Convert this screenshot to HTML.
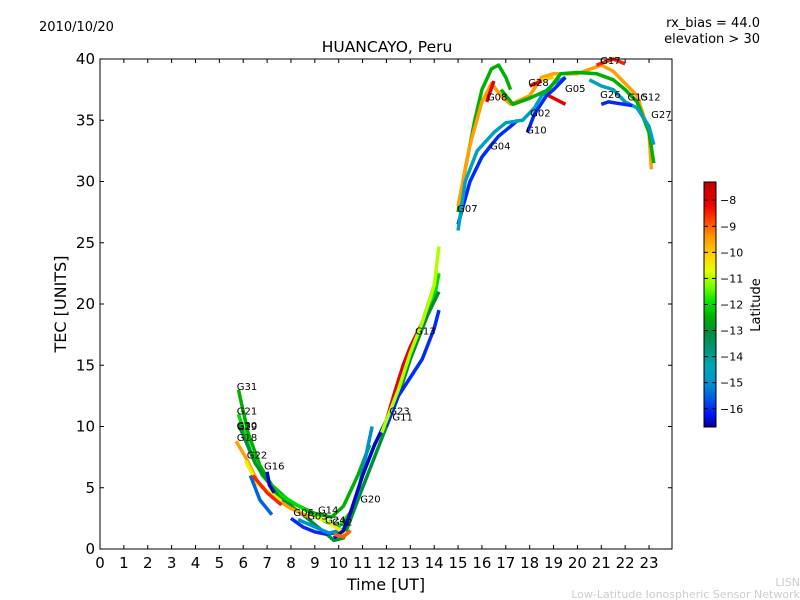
<!DOCTYPE html>
<html><head><meta charset="utf-8"><style>
body{margin:0;background:#fff;}
svg{display:block;font-family:"DejaVu Sans","Liberation Sans",sans-serif;}
</style></head><body>
<svg id="chart" width="800" height="600">
<text x="39" y="31" font-size="13">2010/10/20</text>
<text x="760" y="27" font-size="13" text-anchor="end">rx_bias = 44.0</text>
<text x="760" y="43" font-size="13" text-anchor="end">elevation &gt; 30</text>
<text x="387" y="52" font-size="15.5" text-anchor="middle">HUANCAYO, Peru</text>
<g id="tracks"></g>
<g id="labels"></g>
<rect x="100" y="59" width="572" height="490" fill="none" stroke="#000" stroke-width="1"/>
<g id="xaxis"></g>
<g id="yaxis"></g>
<text x="386" y="590" font-size="16" text-anchor="middle">Time [UT]</text>
<text x="66" y="304" font-size="16" text-anchor="middle" transform="rotate(-90 66 304)">TEC [UNITS]</text>
<defs><linearGradient id="cmap" x1="0" y1="1" x2="0" y2="0"></linearGradient></defs>
<rect x="704" y="182" width="12" height="245" fill="url(#cmap)" stroke="#000" stroke-width="1"/>
<g id="cbar"></g>
<text x="760" y="305" font-size="13" text-anchor="middle" transform="rotate(-90 760 305)">Latitude</text>
<text x="800" y="586" font-size="11" fill="#ccc" text-anchor="end">LISN</text>
<text x="800" y="598" font-size="11" fill="#ccc" text-anchor="end">Low-Latitude Ionospheric Sensor Network</text>
</svg>
<script>
const xTicks=[0,1,2,3,4,5,6,7,8,9,10,11,12,13,14,15,16,17,18,19,20,21,22,23];
const yTicks=[0,5,10,15,20,25,30,35,40];
const cTicks=[-8,-9,-10,-11,-12,-13,-14,-15,-16];
const trackLat=[-12.5,-12,-13,-9.5,-10.5,-16.5,-15.5,-8.5,-16,-15,-10.5,-16.5,-9,-8,-16,-11,-12.5,-9.5,-8,-16,-14.5,-16,-8,-8,-12.5,-14.5,-16,-8.5,-10];
const trackHours=[
[5.8,6.2,6.7,7.2,8,9,9.7,10.2,10.8,11.3],
[5.8,6.3,6.8,7.5,8.5,9.5,10,10.5,11,11.5,12,12.5,13,13.5,14,14.2],
[5.8,6.5,7.5,8.5,9.5,9.8,10.2,10.8,11.5,12,12.5,13,13.7,14.2],
[5.7,6.1,6.6,7.2,8,8.8],
[6.1,6.6,7.2,7.6],
[7.0,7.1,7.3],
[6.3,6.7,7.2],
[6.4,7,7.6],
[8.0,8.5,9,9.5,10],
[8.3,9,9.6,10.2,10.8,11.4],
[9,9.5,10,10.4],
[9.8,10.2,10.5,11,11.5,12],
[9.8,10.2,10.5],
[12,12.3,12.7,13,13.5,14],
[12,12.5,13,13.5,14,14.2],
[11.8,12.5,13,13.5,14,14.2],
[15,15.3,15.7,16,16.4,16.7,17,17.2],
[15,15.5,16,16.4,16.8,17.2,18,18.5,19,20,21,21.5,22,22.5,23,23.1],
[16.2,16.5],
[15,15.5,16,16.4,16.7,17.2,17.5],
[15,15.3,15.8,16.5,17,17.7,18.2,18.5,19,19.5],
[17.9,18.2,18.7,19,19.5],
[18.8,19.5],
[18,18.5],
[16.8,17.3,18,18.8,19.3,20,20.8,21.5,22,22.5,23,23.2],
[20.5,21,21.5,22,22.5,23,23.2],
[21,21.3,22.3],
[20.8,21.5,22],
[18.5,19]];
const trackTec=[
[13,9.5,6.8,5.2,3.8,2.9,2.6,3.5,6,8.5],
[11,8,6,4.5,3.3,2.2,1.8,3,6,8.5,10.5,13,16,18,20.5,22.5],
[10.2,7,4.2,2.8,1.2,0.7,0.9,4,7.5,10,12.5,15.5,19,21],
[8.8,7.5,5.5,4.3,3.3,2.6],
[7.2,5.3,4.5,3.9],
[6.3,5.2,4.6],
[6,4,2.8],
[6,4.6,3.6],
[2.5,1.8,1.4,1.2,1.4],
[2.4,1.8,1.3,1.6,4.5,10],
[2.6,2.3,1.6,1.2],
[0.9,1.5,3,6,8.5,10.5],
[1.2,1.0,1.5],
[10.5,12.5,15,16.5,18.5,21.5],
[10,12.5,14,15.5,18,19.5],
[9.5,13,16,18.5,21.5,24.7],
[27.5,31,35,37.5,39.2,39.5,38.5,37.5],
[28,33,36.5,38,37,36.3,37,38.5,38.8,38.8,39.5,39,38,37,34,31],
[36.5,38.2],
[26.5,30,32,33,33.7,34.5,35],
[26,30,32.5,34,34.8,35,36,37,38,38.5],
[34,35.5,37,37.5,38.5],
[37,36.3],
[37.8,38.2],
[37.5,36.3,36.8,37.5,38.8,38.9,38.8,38.3,37.5,36.5,34,31.5],
[38.3,37.8,37.5,36.5,36,34.5,33],
[36.3,36.5,36.2],
[39.5,40,39.6],
[38.3,38.5]];
const labelNames=["G31","G21","G30","G29","G18","G22","G16","G06","G03","G14","G24","G32","G20","G23","G11","G13","G07","G04","G08","G28","G02","G10","G05","G17","G26","G15","G12","G27"];
const labelHours=[5.73,5.73,5.73,5.73,5.73,6.15,6.87,8.1,8.68,9.13,9.43,9.72,10.9,12.12,12.25,13.2,14.96,16.34,16.21,17.94,18.02,17.85,19.48,20.95,20.95,22.1,22.63,23.09];
const labelTec=[13,11,9.8,9.7,8.8,7.4,6.5,2.7,2.4,2.9,2.1,1.9,3.8,11,10.5,17.5,27.5,32.6,36.6,37.8,35.3,33.9,37.3,39.6,36.8,36.6,36.6,35.2];
const X0=100,X1=672.9,Y0=549,Y1=59,HMAX=24,TMAX=40;
const xs=h=>X0+(X1-X0)*h/HMAX, ys=t=>Y0-(Y0-Y1)*t/TMAX;
const C0=-16.7,C1=-7.3, cy=v=>427-245*(v-C0)/(C1-C0);
const NS="http://www.w3.org/2000/svg";
const stops=[[-16.7,[0,0,150]],[-16.2,[0,20,255]],[-15.7,[0,80,230]],[-15.1,[0,140,210]],[-14.4,[0,165,185]],[-13.7,[0,150,120]],[-13.1,[0,140,60]],[-12.5,[0,175,0]],[-11.9,[0,230,0]],[-11.3,[120,255,0]],[-10.7,[230,255,0]],[-10.1,[255,210,0]],[-9.4,[255,150,0]],[-8.8,[255,70,0]],[-8.2,[240,0,0]],[-7.3,[190,0,0]]];
function cmap(v){v=Math.max(C0,Math.min(C1,v));
 for(let i=1;i<stops.length;i++){if(v<=stops[i][0]){const a=stops[i-1],b=stops[i],t=(v-a[0])/(b[0]-a[0]);
  return 'rgb('+a[1].map((c,k)=>Math.round(c+(b[1][k]-c)*t)).join(',')+')';}}
 return 'rgb(190,0,0)';}
const grad=document.getElementById('cmap');
stops.forEach(s=>{const st=document.createElementNS(NS,'stop');st.setAttribute('offset',(s[0]-C0)/(C1-C0));st.setAttribute('stop-color','rgb('+s[1].join(',')+')');grad.appendChild(st);});
const tg=document.getElementById('tracks');
trackHours.forEach((hs,i)=>{const p=document.createElementNS(NS,'polyline');
 p.setAttribute('points',hs.map((h,j)=>xs(h)+','+ys(trackTec[i][j])).join(' '));
 p.setAttribute('fill','none');p.setAttribute('stroke',cmap(trackLat[i]));p.setAttribute('stroke-width','3.5');p.setAttribute('stroke-linejoin','round');
 
 
 tg.appendChild(p);});
const lg=document.getElementById('labels');
labelNames.forEach((n,i)=>{const t=document.createElementNS(NS,'text');
 t.setAttribute('x',xs(labelHours[i]));t.setAttribute('y',ys(labelTec[i]));t.setAttribute('font-size','10');t.textContent=n;
 
 
 lg.appendChild(t);});
const xg=document.getElementById('xaxis');
xTicks.forEach(v=>{const x=xs(v);
 xg.insertAdjacentHTML('beforeend',`<line x1="${x}" y1="549" x2="${x}" y2="545" stroke="#000"/><line x1="${x}" y1="59" x2="${x}" y2="63" stroke="#000"/><text x="${x}" y="568" font-size="15" text-anchor="middle">${v}</text>`);});
xg.querySelectorAll('text').forEach(t=>{});
const yg=document.getElementById('yaxis');
yTicks.forEach(v=>{const y=ys(v);
 yg.insertAdjacentHTML('beforeend',`<line x1="100" y1="${y}" x2="104" y2="${y}" stroke="#000"/><line x1="672" y1="${y}" x2="668" y2="${y}" stroke="#000"/><text x="95" y="${y+5}" font-size="15" text-anchor="end">${v}</text>`);});
yg.querySelectorAll('text').forEach(t=>{});
const cg=document.getElementById('cbar');
cTicks.forEach(v=>{const y=cy(v);
 cg.insertAdjacentHTML('beforeend',`<line x1="704" y1="${y}" x2="708" y2="${y}" stroke="#000"/><line x1="716" y1="${y}" x2="712" y2="${y}" stroke="#000"/><text x="720" y="${y+4}" font-size="11">\u2212${-v}</text>`);});
cg.querySelectorAll('text').forEach(t=>{});
</script>
</body></html>
